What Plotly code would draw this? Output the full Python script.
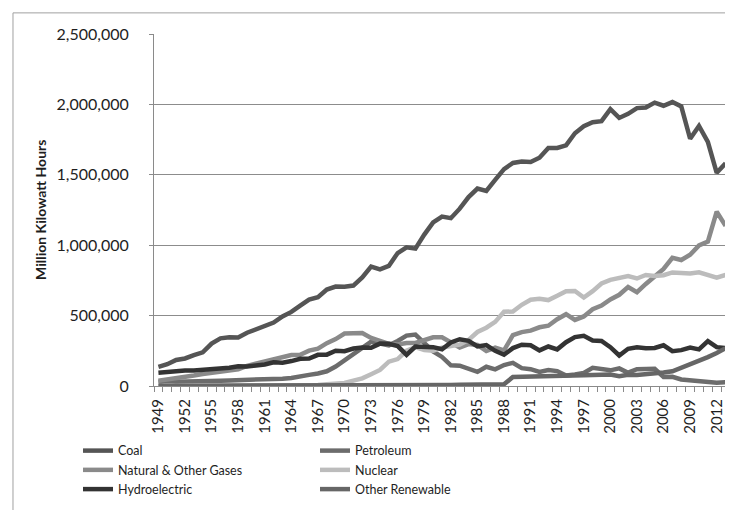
import plotly.graph_objects as go

# Net generation by source, million kWh, 1949-2013
anos = list(range(1949, 2014))

carvao = [135451, 154520, 185204, 195436, 218846, 239146, 301363, 338504, 346386, 344366,
          378424, 403067, 421870, 450249, 493927, 526230, 570926, 613475, 630483, 684905,
          705964, 704394, 713103, 771130, 847651, 828433, 852786, 944391, 985219, 975742,
          1075037, 1161562, 1203203, 1192004, 1259424, 1341681, 1402128, 1385831, 1463781, 1540653,
          1583779, 1594011, 1590623, 1621206, 1690070, 1690694, 1709426, 1795196, 1845016, 1873516,
          1881087, 1966265, 1903956, 1933130, 1973737, 1978301, 2012873, 1990511, 2016456, 1985801,
          1755904, 1847290, 1733430, 1514043, 1581115]

petroleo = [28547, 33734, 29582, 29943, 37194, 35681, 37138, 37044, 39939, 40948,
            46928, 47987, 48997, 48363, 52021, 57453, 64801, 78854, 89272, 104331,
            138337, 184183, 220160, 273694, 314343, 300901, 289095, 320009, 358176, 365060,
            303525, 245994, 206421, 146797, 144499, 119808, 100202, 136585, 118483, 148861,
            164526, 126460, 119753, 100154, 112788, 105901, 74554, 81411, 92555, 128800,
            118061, 111221, 124880, 94567, 119406, 121145, 122225, 64166, 65739, 46243,
            38937, 37061, 30182, 23190, 27164]

gas = [36967, 44559, 56193, 65040, 74181, 85143, 95285, 101025, 111111, 118447,
       143520, 157970, 169296, 184318, 201958, 220165, 221559, 251151, 264839, 304367,
       333315, 372890, 374746, 375723, 340858, 320065, 299778, 294624, 305505, 305391,
       329485, 346240, 345777, 305260, 274098, 297394, 291946, 248508, 272621, 252801,
       361000, 383000, 393000, 417000, 428000, 474000, 510000, 469000, 494000, 545000,
       571000, 615000, 648000, 703000, 666000, 725000, 774000, 831000, 910000, 895000,
       932000, 999000, 1025000, 1238000, 1138000]

nuclear = [0, 0, 0, 0, 0, 0, 0, 0, 10, 165,
           188, 518, 1692, 2270, 3212, 3343, 3657, 5520, 7655, 12528,
           13928, 21804, 38105, 54091, 83479, 113976, 172505, 191104, 250883, 276403,
           255155, 251116, 272674, 282773, 293677, 327634, 383691, 414038, 455270, 526973,
           529355, 576862, 612565, 618776, 610291, 640440, 673402, 674729, 628644, 673702,
           728254, 753893, 768826, 780064, 763733, 788528, 781986, 787219, 806425, 806208,
           798855, 806968, 790204, 769331, 789017]

hidro = [94775, 100885, 104376, 109708, 109617, 112975, 116236, 122029, 130195, 140169,
         138753, 145833, 152609, 168579, 165849, 177029, 193851, 194757, 221462, 222491,
         250193, 247470, 266320, 272621, 272083, 301015, 300047, 283707, 220475, 280419,
         279783, 276021, 260684, 309213, 332130, 321150, 281149, 290844, 249695, 222158,
         269189, 292866, 288994, 253088, 280494, 260126, 310833, 347162, 356453, 323336,
         319536, 275573, 216961, 264329, 275806, 268417, 270321, 289246, 247510, 254831,
         273445, 260203, 319355, 276240, 268565]

outras = [400, 400, 400, 380, 380, 340, 310, 280, 280, 270,
          260, 200, 300, 400, 500, 600, 700, 800, 900, 1000,
          1000, 1100, 1500, 2000, 2500, 3000, 3500, 4000, 4500, 5000,
          5500, 6000, 6500, 7500, 8500, 10000, 11000, 12000, 12500, 12500,
          64000, 66000, 70000, 75000, 76000, 77000, 73000, 76000, 77000, 78000,
          79000, 81000, 70000, 80000, 79000, 83000, 87000, 96000, 105000, 130000,
          150000, 175000, 205000, 235000, 268000]

nomes = ["Coal", "Petroleum", "Natural & Other Gases", "Nuclear", "Hydroelectric", "Other Renewable"]
series = [carvao, petroleo, gas, nuclear, hidro, outras]
cores = ["#555555", "#6c6c6c", "#8a8a8a", "#bcbcbc", "#333333", "#666666"]

fonte = "Lato, 'Open Sans', sans-serif"

fig = go.Figure()
for nome, y, cor in zip(nomes, series, cores):
    fig.add_trace(go.Scatter(x=anos, y=y, name=nome, mode="lines",
                             line=dict(color=cor, width=4.5)))

fig.update_layout(
    width=733, height=510,
    margin=dict(l=146, r=11, t=26, b=132),
    paper_bgcolor="white", plot_bgcolor="white",
    font=dict(family=fonte, color="#1e1e1e", size=14),
    showlegend=True,
    # xanchor right + x dentro do grafico -> legenda quebra em 2 colunas
    legend=dict(orientation="h", x=0.691, xanchor="right", y=-0.142, yanchor="top",
                entrywidth=192, font=dict(size=12.5, family=fonte, color="#1e1e1e"),
                itemwidth=30, tracegroupgap=0, bgcolor="rgba(0,0,0,0)"),
)

fig.update_xaxes(
    range=[1948.5, 2013.5], tickmode="array", tickvals=anos[::3],
    ticktext=[str(a) for a in anos[::3]], tickangle=-90,
    tickfont=dict(size=15), ticks="", ticklabelstandoff=6,
    showgrid=False, showline=True, linecolor="#8a8a8a", linewidth=1,
    minor=dict(ticks="outside", tick0=1948.5, dtick=1, ticklen=5, tickcolor="#8a8a8a", showgrid=False),
    zeroline=False,
)
fig.update_yaxes(
    range=[0, 2500000], dtick=500000, tickformat=",d",
    tickfont=dict(size=16), ticks="outside", ticklen=4, tickcolor="#8a8a8a",
    ticklabelstandoff=17,
    showgrid=True, gridcolor="#8c8c8c", gridwidth=1,
    showline=True, linecolor="#8a8a8a", linewidth=1, zeroline=False,
)

# titulo do eixo y
fig.add_annotation(text="<b>Million Kilowatt Hours</b>", xref="paper", yref="paper",
                   x=-0.198, xanchor="center", y=0.5, yanchor="middle", textangle=-90,
                   showarrow=False, font=dict(size=14, family=fonte, color="#1e1e1e"))

# moldura do grafico
fig.add_shape(type="rect", xref="paper", yref="paper",
              x0=-0.2448, x1=1.03, y0=-0.3665, y1=1.06,
              line=dict(color="#a0a0a0", width=1))

fig.write_html("out.html")
